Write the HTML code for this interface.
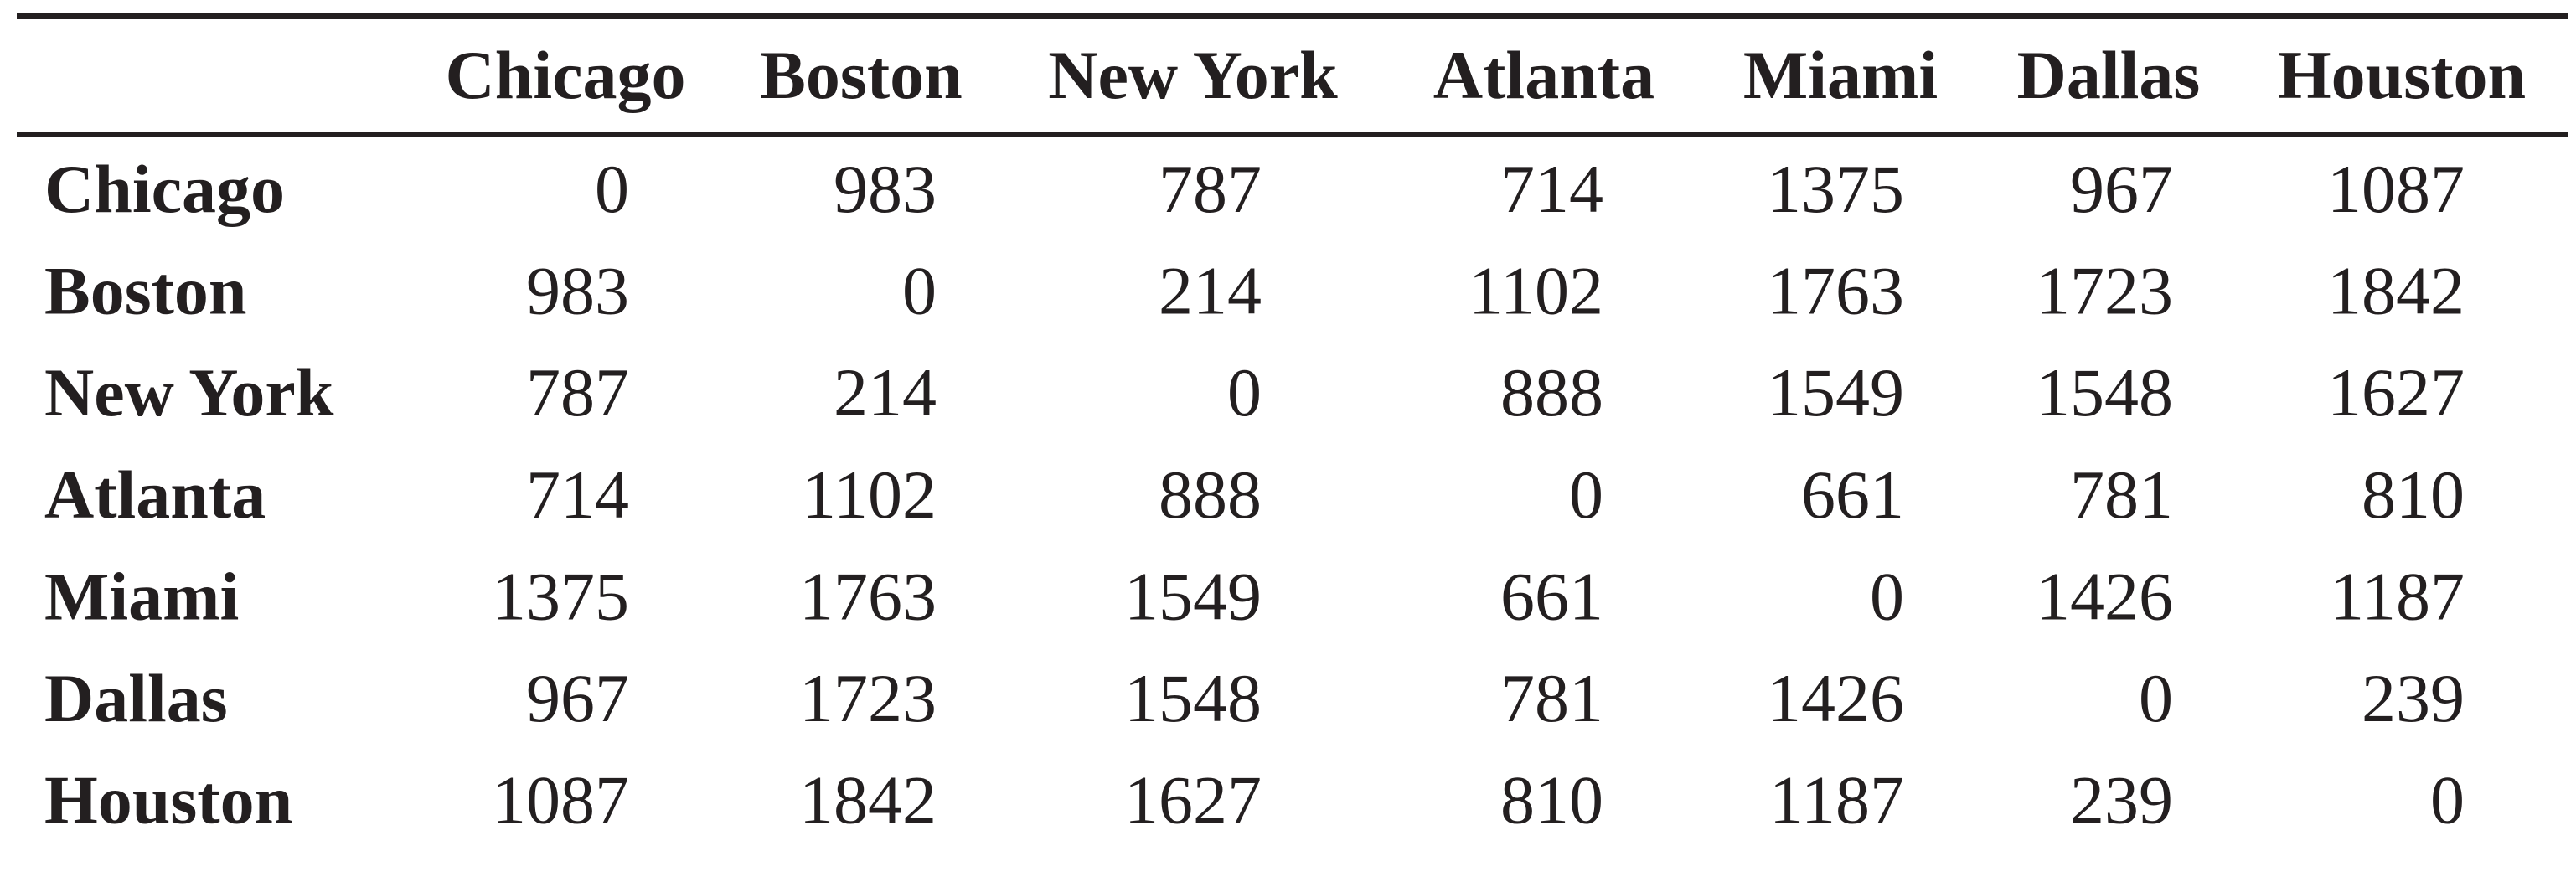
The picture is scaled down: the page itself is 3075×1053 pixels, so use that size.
<!DOCTYPE html>
<html><head><meta charset="utf-8"><style>
html,body{margin:0;padding:0;background:#fff;}
svg{display:block;}
text{font-family:"Liberation Serif",serif;fill:#231f20;}
</style></head><body>
<svg id="chart" width="3075" height="1053" viewBox="0 0 3075 1053" xmlns="http://www.w3.org/2000/svg">
<rect x="20" y="16" width="3045" height="7" fill="#231f20"/>
<rect x="20" y="157" width="3045" height="7" fill="#231f20"/>
</svg>
<script>
const cities = ["Chicago","Boston","New York","Atlanta","Miami","Dallas","Houston"];
const rowChicago = [0,983,787,714,1375,967,1087];
const rowBoston = [983,0,214,1102,1763,1723,1842];
const rowNewYork = [787,214,0,888,1549,1548,1627];
const rowAtlanta = [714,1102,888,0,661,781,810];
const rowMiami = [1375,1763,1549,661,0,1426,1187];
const rowDallas = [967,1723,1548,781,1426,0,239];
const rowHouston = [1087,1842,1627,810,1187,239,0];
const rows = [rowChicago,rowBoston,rowNewYork,rowAtlanta,rowMiami,rowDallas,rowHouston];

const svg = document.getElementById('chart');
const NS = 'http://www.w3.org/2000/svg';
const colCenter = [675,1028,1424,1843,2197,2517,2867];
const colRight = [751,1118,1506,1914,2273,2594,2942];
function rowY(i){ return 253 + i*121.6; }
function txt(x,y,s,anchor,bold){
  const t=document.createElementNS(NS,'text');
  t.setAttribute('x',x);t.setAttribute('y',y);
  t.setAttribute('font-size','82');
  t.setAttribute('text-anchor',anchor);
  if(bold)t.setAttribute('font-weight','bold');
  t.textContent=s;svg.appendChild(t);return t;
}
cities.forEach((c,j)=>{
  const t=txt(colCenter[j],117,c,'middle',true);
  
  
});
rows.forEach((r,i)=>{
  const l=txt(53,rowY(i),cities[i],'start',true);
  
  
  r.forEach((v,j)=>{
    const t=txt(colRight[j],rowY(i),String(v),'end',false);
    
    
  });
});
</script>
</body></html>
